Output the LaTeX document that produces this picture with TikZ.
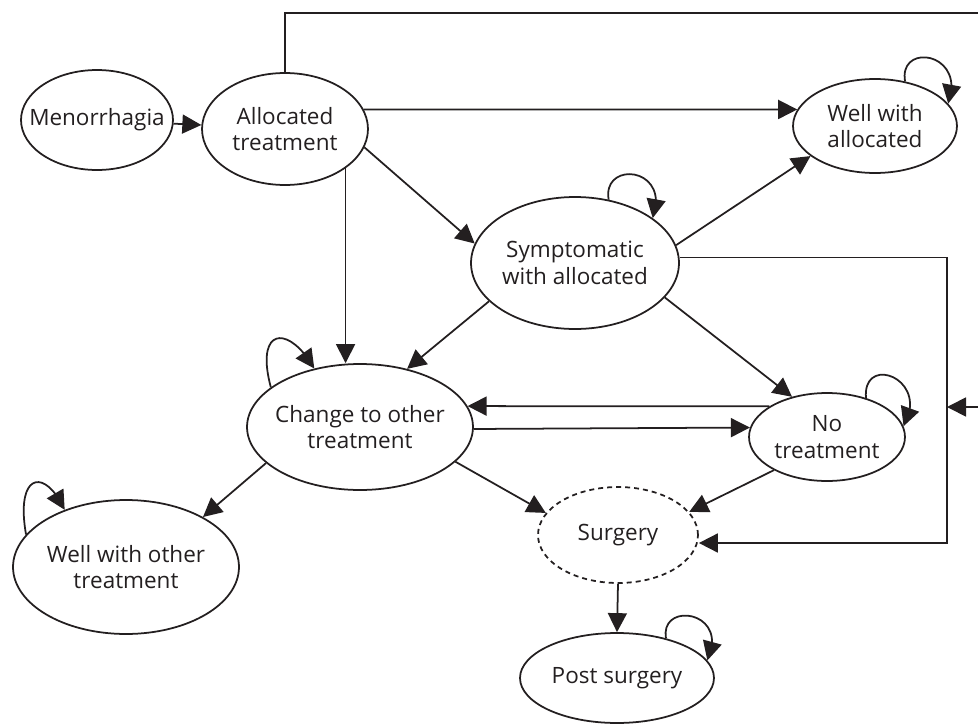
\documentclass[tikz,border=0pt]{standalone}
\usepackage{fontspec}
\setmainfont{Open Sans}
\usepackage{tikz}
\usetikzlibrary{shapes.geometric,arrows.meta,bending,calc}
\definecolor{ink}{HTML}{231F20}

\tikzset{
  state/.style={ellipse, draw=ink, line width=1pt, text=ink, align=center,
    inner xsep=-5mm, inner ysep=-2mm,
    font=\fontsize{12.8}{15}\selectfont},
  arr/.style={-{Triangle[length=3.8mm,width=3.8mm]}, draw=ink, line width=1pt},
}

\begin{document}
\begin{tikzpicture}[x=0.02cm, y=0.02cm]
	\useasboundingbox (0,0) rectangle (978,-727);
	% states
	\node[state, minimum width=3.04cm, minimum height=2cm] (men) at (97,-120) {Menorrhagia};
	\node[state, minimum width=3.32cm, minimum height=2.24cm] (alloc) at (285,-129) {Allocated\\treatment};
	\node[state, minimum width=3.28cm, minimum height=1.88cm] (wwa) at (875,-126) {Well with\\allocated};
	\node[state, minimum width=4.16cm, minimum height=2.64cm] (sympt) at (575,-263) {Symptomatic\\with allocated};
	\node[state, minimum width=4.52cm, minimum height=2.52cm] (chg) at (360,-427) {Change to other\\treatment};
	\node[state, minimum width=3.12cm, minimum height=1.76cm] (no) at (827,-437) {No\\treatment};
	\node[state, dashed, dash pattern=on 1mm off 0.8mm, minimum width=3.2cm, minimum height=1.92cm] (surg) at (618,-535) {Surgery};
	\node[state, minimum width=3.88cm, minimum height=1.8cm] (post) at (617,-678) {Post surgery};
	\node[state, minimum width=4.52cm, minimum height=2.68cm] (wwo) at (126,-567) {Well with other\\treatment};
	% helper points
	\coordinate (out) at (990,-13);
	\coordinate (join) at (947,-407);
	\coordinate (corner) at (947,-543);
	% transitions
	\draw[arr] (men) -- (alloc);
	\draw[arr] (alloc.14) -- (wwa.168);
	\draw[arr] (alloc.north) |- (out) |- (join);
	\draw[arr] (alloc.-13) -- (sympt.169);
	\draw[arr] (alloc.-33) -- (alloc.-33 |- chg.north);
	\draw[arr] (sympt.10) -- (wwa.205);
	\draw[arr] (sympt.3) -| (corner) -- (corner -| surg.east);
	\draw[arr] (sympt.204) -- (chg.51);
	\draw[arr] (sympt.-21) -- (no.131);
	\draw[arr] (no.152) -- (chg.11);
	\draw[arr] (chg.-1) -- (no.173);
	\draw[arr] (chg.201) -- (wwo.33);
	\draw[arr] (chg.-20) -- (surg.163);
	\draw[arr] (no.212) -- (surg.18);
	\draw[arr] (surg.south) -- (post.north);
	% self loops
	\draw[arr] (wwa.56) .. controls +(100:40) and +(70:55) .. (wwa.17);
	\draw[arr] (sympt.62) .. controls +(100:40) and +(70:55) .. (sympt.30);
	\draw[arr] (no.45) .. controls +(95:45) and +(60:55) .. (no.8);
	\draw[arr] (post.39) .. controls +(100:38) and +(65:55) .. (post.11);
	\draw[arr] (chg.156) .. controls +(105:62) and +(120:52) .. (chg.128);
	\draw[arr] (wwo.162) .. controls +(100:62) and +(115:48) .. (wwo.137);
\end{tikzpicture}
\end{document}
